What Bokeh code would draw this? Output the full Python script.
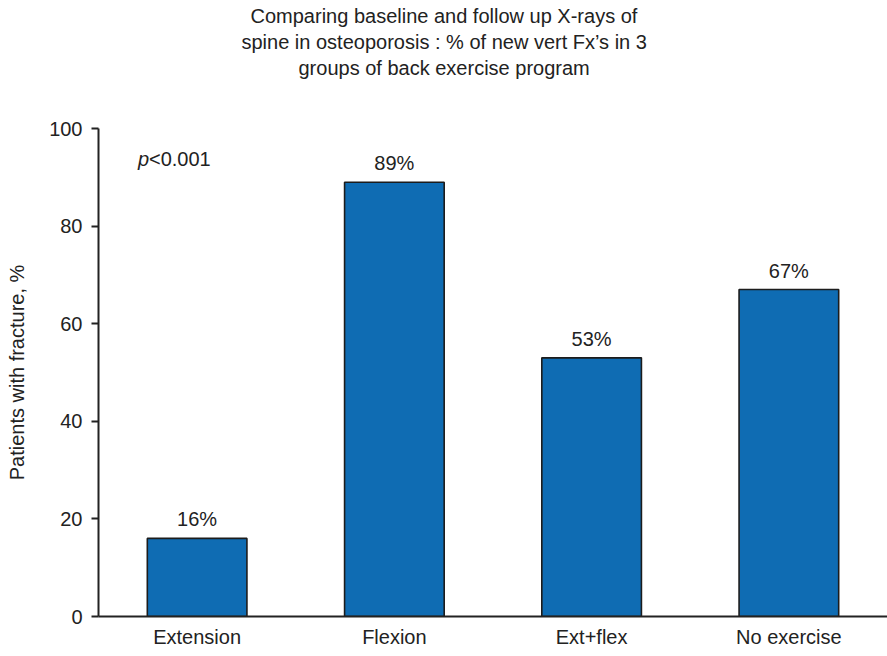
from bokeh.plotting import figure
from bokeh.models import ColumnDataSource, FactorRange, Range1d, Label, Title, FixedTicker
from bokeh.embed import file_html
from bokeh.resources import INLINE

# Share of patients with a new vertebral fracture, by exercise group
groups = ["Extension", "Flexion", "Ext+flex", "No exercise"]
fracture_pct = [16, 89, 53, 67]
value_labels = ["16%", "89%", "53%", "67%"]
y_ticks = [0, 20, 40, 60, 80, 100]
title_lines = [
    "Comparing baseline and follow up X-rays of",
    "spine in osteoporosis : % of new vert Fx\u2019s in 3",
    "groups of back exercise program",
]
# left-edge offsets (px from the plot area) that centre each heading line on the page
title_offsets = [152, 143, 200]

FONT = "Liberation Sans"
FS = "20px"
INK = "#222222"
BAR = "#0f6cb3"

src = ColumnDataSource(dict(group=groups, pct=fracture_pct, lbl=value_labels))

p = figure(
    width=887, height=656,
    x_range=FactorRange(factors=groups, range_padding=0),
    y_range=Range1d(0, 100),
    output_backend="svg", toolbar_location=None,
    min_border_left=98, min_border_right=0, min_border_bottom=40, min_border_top=128,
)
p.title = None
p.outline_line_color = None
p.grid.visible = False
p.background_fill_color = "white"
p.border_fill_color = "white"

# blank gap between the heading and the plot area
p.add_layout(Title(text=" ", text_font=FONT, text_font_size="42px", standoff=0), "above")

# heading lines; panels added later stack further from the plot
for k in reversed(range(len(title_lines))):
    p.add_layout(Title(
        text=title_lines[k], align="left", offset=title_offsets[k],
        text_font=FONT, text_font_size=FS, text_font_style="normal",
        text_color=INK, standoff=2,
    ), "above")

p.vbar(x="group", top="pct", width=0.505, source=src,
       fill_color=BAR, line_color="#1c1c1c", line_width=1.6)

p.text(x="group", y="pct", text="lbl", source=src,
       text_align="center", text_baseline="bottom", y_offset=-8,
       text_font={"value": FONT}, text_font_size=FS, text_color=INK)

# significance annotation
p.add_layout(Label(x=0.2, y=93.8, text="p", text_font=FONT, text_font_size=FS,
                   text_font_style="italic", text_color=INK, text_baseline="middle"))
p.add_layout(Label(x=0.2, y=93.8, x_offset=11, text="<0.001", text_font=FONT,
                   text_font_size=FS, text_color=INK, text_baseline="middle"))

# axes
p.yaxis.ticker = FixedTicker(ticks=y_ticks)
p.yaxis.minor_tick_line_color = None
p.yaxis.major_tick_out = 7
p.yaxis.major_tick_in = 0
p.yaxis.major_label_standoff = 9
p.yaxis.axis_label = "Patients with fracture, %"
p.yaxis.axis_label_standoff = 18
p.yaxis.axis_label_text_font = FONT
p.yaxis.axis_label_text_font_size = FS
p.yaxis.axis_label_text_font_style = "normal"
p.yaxis.major_tick_line_color = INK

p.xaxis.major_tick_line_color = None
p.xaxis.minor_tick_line_color = None
p.xaxis.major_label_standoff = 3

for ax in (p.xaxis, p.yaxis):
    ax.axis_line_color = INK
    ax.axis_line_width = 2
    ax.major_tick_line_width = 2
    ax.major_label_text_font = FONT
    ax.major_label_text_font_size = FS
    ax.major_label_text_color = INK
    ax.axis_label_text_color = INK

open("out.html", "w").write(file_html(p, INLINE))
